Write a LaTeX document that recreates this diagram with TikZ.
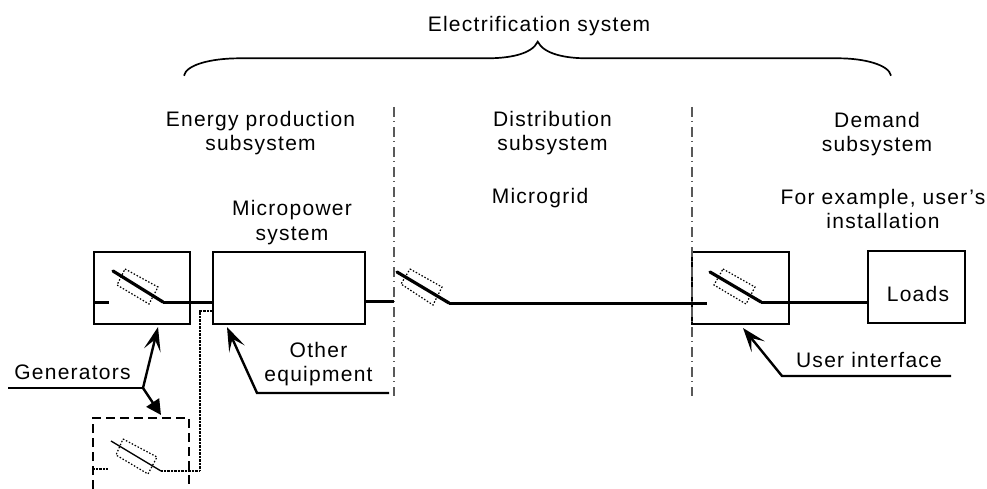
\documentclass[tikz,border=0pt]{standalone}
\usepackage{fontspec}
\setmainfont[LetterSpace=6]{Liberation Sans}
\usetikzlibrary{arrows.meta}
\begin{document}
\begin{tikzpicture}[x=1pt,y=-1pt,
  lab/.style={font=\fontsize{21}{24.5}\selectfont,align=center,inner sep=0pt,anchor=base},
  boxn/.style={draw,line width=1.8pt,minimum width=#1,inner sep=0pt,outer sep=0pt,anchor=north west},
  wire/.style={line width=3pt},
  blade/.style={line width=3.2pt,line cap=round},
  guard/.style={line width=1.2pt,dash pattern=on 1.5pt off 1.8pt},
  thinw/.style={line width=1.4pt,dash pattern=on 1pt off .4pt},
  sep/.style={line width=1.3pt,black!65,dash pattern=on 10pt off 4pt on 1pt off 5pt},
  lead/.style={line width=2.4pt},
  openhead/.style={-{Stealth[length=24pt,width=17pt,inset=11pt]}},
  fullhead/.style={-{Triangle[length=15pt,width=15pt]}}]
\useasboundingbox (0,0) rectangle (987,489);

% boxes
\node[boxn=96pt,minimum height=72pt] (gen) at (94,252) {};
\node[boxn=152pt,minimum height=72pt] (micro) at (213,252) {};
\node[boxn=97pt,minimum height=72pt] (ui) at (692,252) {};
\node[boxn=97pt,minimum height=72pt] (loads) at (868,251) {};
\node[lab] (tloads) at (918,301) {Loads};

% separators
\coordinate (s1t) at (394,107); \coordinate (s1b) at (394,396);
\coordinate (s2t) at (692,107); \coordinate (s2b) at (692,396);
\draw[sep] (s1t) -- (s1b);
\draw[sep] (s2t) -- (s2b);

% switch in generator box
\coordinate (g0) at (94,302); \coordinate (g1) at (109,302);
\coordinate (g2) at (113,271); \coordinate (g3) at (163,302);
\draw[wire] (g0) -- (g1);
\draw[blade] (g2) -- (g3);
\draw[wire] (g3) -- (g3 -| micro.west);
\draw[guard] (125,269) -- (158,287) -- (149,304) -- (117,285) -- cycle;

% switch 2
\coordinate (m0) at (micro.east |- 0,301); \coordinate (m1) at (394,301);
\coordinate (d2) at (397,272); \coordinate (d3) at (449,303);
\draw[wire] (m0) -- (m1);
\draw[blade] (d2) -- (d3);
\draw[wire] (d3) -- (707,303);
\draw[guard] (410,269) -- (442,287) -- (433,305) -- (401,284) -- cycle;

% switch 3
\coordinate (u2) at (710,272); \coordinate (u3) at (761,302);
\draw[blade] (u2) -- (u3);
\draw[wire] (u3) -- (u3 -| loads.west);
\draw[guard] (723,269) -- (755,287) -- (746,304) -- (714,285) -- cycle;

% dashed generator
\coordinate (a1) at (93,489); \coordinate (a2) at (93,418);
\coordinate (a3) at (189,418); \coordinate (a4) at (189,489);
\draw[line width=1.8pt,dash pattern=on 9pt off 5pt] (a1) -- (a2) -- (a3) -- (a4);
\coordinate (b0) at (93,469); \coordinate (b1) at (108,469);
\coordinate (b2) at (111,441); \coordinate (b3) at (161,471);
\coordinate (b4) at (200,471); \coordinate (b5) at (200,311);
\draw[thinw] (b0) -- (b1);
\draw[line width=1.3pt] (b2) -- (b3);
\draw[thinw] (b3) -- (b4) -- (b5) -- (b5 -| micro.west);
\draw[guard] (123,439) -- (157,457) -- (148,474) -- (116,455) -- cycle;

% generators leader
\coordinate (l0) at (8,388); \coordinate (l1) at (143,388);
\coordinate (l2) at (158,327); \coordinate (l3) at (161,415);
\draw[lead] (l0) -- (l1);
\draw[lead,openhead] (l1) -- (l2);
\draw[lead,fullhead] (l1) -- (l3);
\node[lab] (tgen) at (72.5,379) {Generators};

% other equipment leader
\coordinate (o0) at (389,393); \coordinate (o1) at (257,393); \coordinate (o2) at (227,327);
\draw[lead,openhead] (o0) -- (o1) -- (o2);
\node[lab] (toth) at (318.5,381.7) {Other\\equipment};

% user interface leader
\coordinate (i0) at (951,376); \coordinate (i1) at (782,376); \coordinate (i2) at (743,328);
\draw[lead,openhead] (i0) -- (i1) -- (i2);
\node[lab] (tui) at (869,367.7) {User interface};

% brace
\coordinate (bl) at (184,75.7); \coordinate (bm) at (537.7,41.7); \coordinate (br) at (891,75.7);
\draw[line width=1.7pt] (bl) .. controls (186,65) and (210,58.3) .. (240,58.3)
  -- (487,58.3) .. controls (510,58.3) and (532,54) .. (bm)
  .. controls (544,54) and (565,58.3) .. (587,58.3)
  -- (838,58.3) .. controls (865,58.3) and (889,65) .. (br);

% labels
\node[lab] (tel) at (539,31.7) {Electrification system};
\node[lab] (ten) at (260.5,151) {Energy production\\subsystem};
\node[lab] (tdi) at (552.5,151) {Distribution\\subsystem};
\node[lab] (tmg) at (540,204) {Microgrid};
\node[lab] (tde) at (877,151.7) {Demand\\subsystem};
\node[lab] (tfo) at (883,228.5) {For example, user's\\installation};
\node[lab] (tmi) at (292,240) {Micropower\\system};
\end{tikzpicture}
\end{document}
